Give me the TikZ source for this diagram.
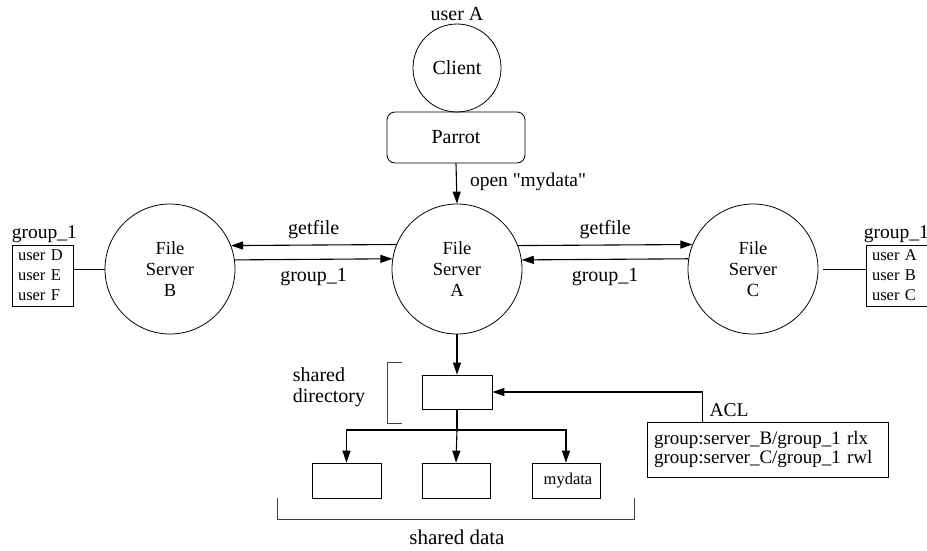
\documentclass[tikz,border=0pt]{standalone}
\usepackage{fontspec}
\setmainfont{Liberation Serif}[Ligatures=TeXOff]
\usetikzlibrary{arrows.meta,calc}
\begin{document}
\begin{tikzpicture}[x=1pt,y=-1pt,
  every node/.style={font=\fontsize{19.5}{21}\selectfont},
  base/.style={line width=0.8pt},
  srv/.style={base,draw,circle,minimum size=130,inner sep=0pt,align=center,font=\fontsize{18.5}{21}\selectfont},
  bx/.style={base,draw,inner sep=0pt},
  ulist/.style={base,draw,align=left,text width=49,inner xsep=6pt,minimum height=61,font=\fontsize{16.5}{20}\selectfont},
  arr/.style={line width=1.1pt,-{Triangle[length=12pt,width=8pt]}},
  lbl/.style={inner sep=0pt},
  ]
\useasboundingbox (0,0) rectangle (927,550);

% top
\node[lbl,font=\fontsize{20}{22}\selectfont] (ua) at (457,14) {user A};
\node[base,draw,circle,minimum size=88,inner sep=0pt,font=\fontsize{20}{22}\selectfont] (client) at (457,68) {Client};
\node[base,draw,rounded corners=8pt,minimum width=138,minimum height=51,font=\fontsize{20}{22}\selectfont] (parrot) at (456,137.5) {Parrot};

% servers
\node[srv] (A) at (457,269) {File\\Server\\A};
\node[srv] (B) at (170,269) {File\\Server\\B};
\node[srv] (C) at (753,269) {File\\Server\\C};

\draw[arr] (parrot.south) -- node[lbl,right=13pt,pos=0.45] (open) {open "mydata"} (A.north);

\draw[arr] (A.158.3) -- node[lbl,above=6pt,font=\fontsize{20}{22}\selectfont] (gf1) {getfile} (B.21.7);
\draw[arr] (B.8.8) -- node[lbl,below=8pt,font=\fontsize{20}{22}\selectfont] (g1a) {group\_1} (A.171.2);
\draw[arr] (A.21.7) -- node[lbl,above=6pt,font=\fontsize{20}{22}\selectfont] (gf2) {getfile} (C.158.3);
\draw[arr] (C.171.2) -- node[lbl,below=8pt,font=\fontsize{20}{22}\selectfont] (g1b) {group\_1} (A.8.8);

% group lists
\node[ulist] (gB) at (42.5,275.5) {user D\\user E\\user F};
\node[lbl,anchor=south west] (gBl) at ($(gB.north west)+(0,-2)$) {group\_1};
\draw[base] (B.west) -- (B.west -| gB.east);

\node[ulist] (gC) at (896.5,275.5) {user A\\user B\\user C};
\node[lbl,anchor=south west] (gCl) at ($(gC.north west)+(-2,-2)$) {group\_1};
\draw[base,shorten <=5pt] (C.east) -- (C.east -| gC.west);

% shared directory
\node[bx,minimum width=70,minimum height=34] (dir) at (457,392) {};
\draw[arr] (A.south) -- (dir.north);
\coordinate (br1) at (402,362);
\coordinate (br2) at (387,423);
\draw[base,black!75] (br1) -- (br1 -| br2) -- (br2) -- (br1 |- br2);
\node[lbl,align=left,font=\fontsize{20}{21}\selectfont] (sdl) at (329,387) {shared\\directory};

% data boxes
\coordinate (j) at (457,430);
\node[bx,minimum width=69,minimum height=35] (d1) at (346.5,480.5) {};
\node[bx,minimum width=68,minimum height=35] (d2) at (456,480.5) {};
\node[bx,minimum width=68,minimum height=35,font=\fontsize{16.5}{18}\selectfont] (d3) at (566,480.5) {\hspace{4pt}mydata};
\draw[line width=1.1pt] (dir.south) -- (j);
\draw[arr] (j) -- (d2.north);
\draw[arr] (j) -| (d1.north);
\draw[arr] (j) -| (d3.north);

\coordinate (bb1) at (277,498);
\coordinate (bb2) at (634,519);
\draw[base,black!75] (bb1) -- (bb1 |- bb2) -- (bb2) -- (bb2 |- bb1);
\node[lbl,font=\fontsize{21}{23}\selectfont] (sd) at (457,537) {shared data};

% ACL
\node[base,draw,align=left,text width=227,inner xsep=7pt,minimum height=55,font=\fontsize{19}{19.5}\selectfont] (acl) at (767.5,449.5) {group:server\_B/group\_1 rlx\\group:server\_C/group\_1 rwl};
\node[lbl] (acll) at (729,410) {ACL};
\draw[arr] ($(acl.north west)+(56,0)$) |- (dir.east);
\end{tikzpicture}
\end{document}
